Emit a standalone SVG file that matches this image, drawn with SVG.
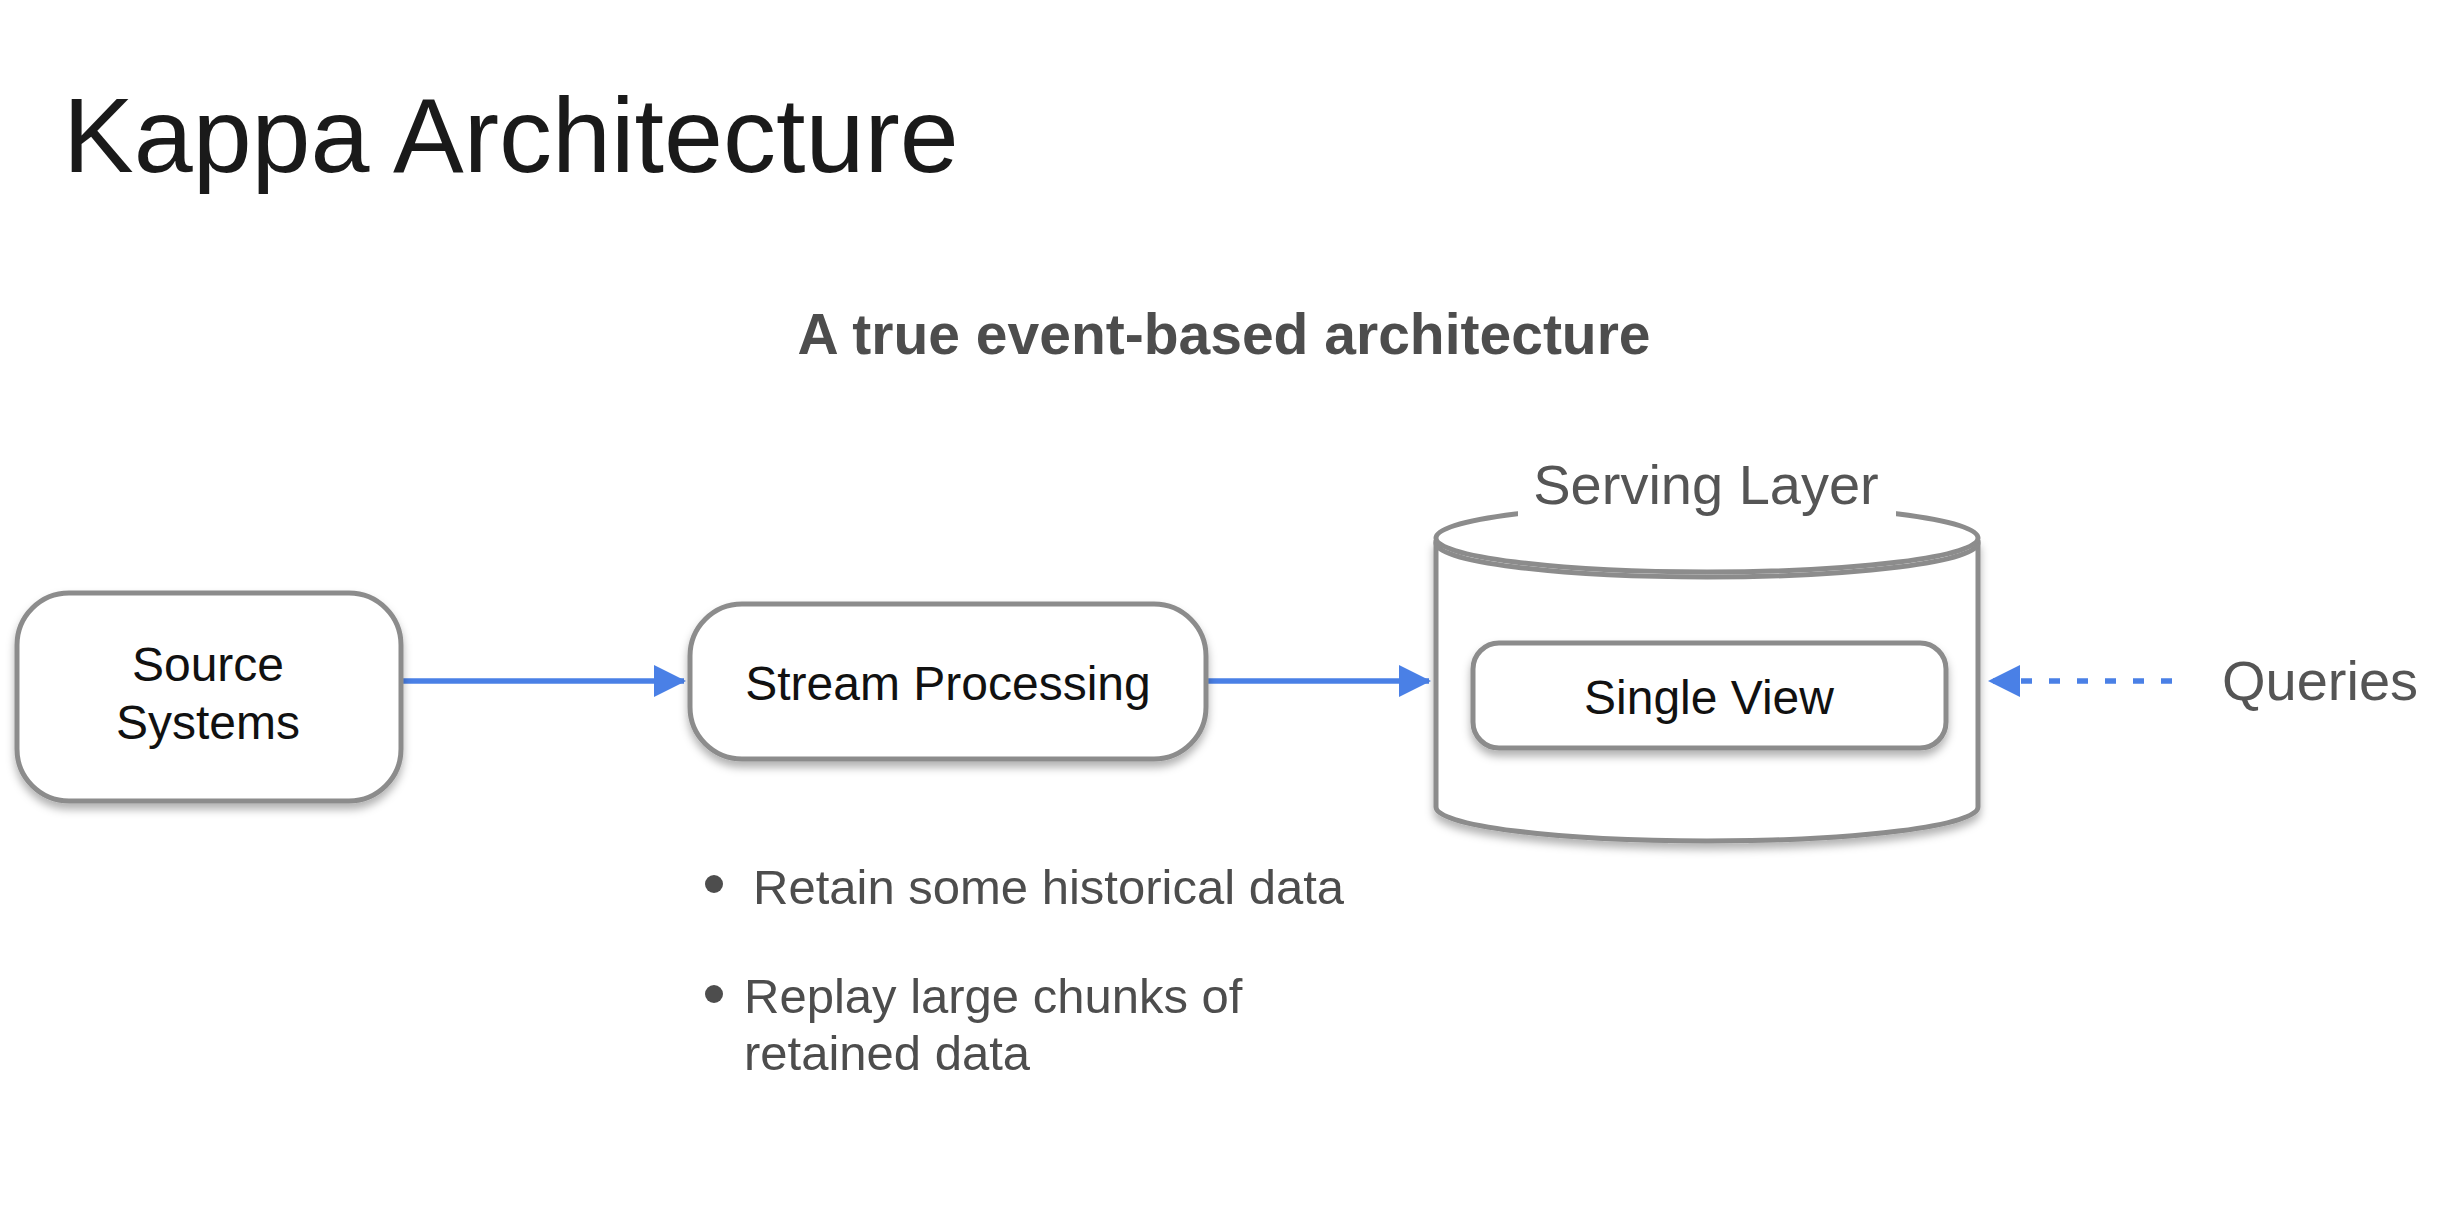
<svg xmlns="http://www.w3.org/2000/svg" width="2456" height="1210" viewBox="0 0 2456 1210">
<style>
text{font-family:"Liberation Sans",Arial,sans-serif}
.box{fill:#fff;stroke:#8c8c8c;stroke-width:5}
.lbl{font-size:48px;fill:#111;text-anchor:middle}
.gray{fill:#555}
.conn{stroke:#4a80e6;stroke-width:5.5;fill:none}
</style>
<defs>
<filter id="sh" x="-10%" y="-10%" width="120%" height="130%">
<feDropShadow dx="0" dy="6" stdDeviation="4" flood-color="#000" flood-opacity="0.3"/>
</filter>
<marker id="ah" markerWidth="32" markerHeight="32" viewBox="0 0 32 32" refX="30" refY="16" orient="auto" markerUnits="userSpaceOnUse">
<path d="M0,0 L32,16 L0,32 Z" fill="#4a80e6"/>
</marker>
</defs>
<rect width="2456" height="1210" fill="#fff"/>
<text x="63" y="172" font-size="106" fill="#1a1a1a">Kappa Architecture</text>
<text x="1224" y="354" font-size="57" font-weight="bold" fill="#4d4d4d" text-anchor="middle">A true event-based architecture</text>

<g id="connectors">
<line class="conn" x1="403" y1="681" x2="684" y2="681" marker-end="url(#ah)"/>
<line class="conn" x1="1208" y1="681" x2="1429" y2="681" marker-end="url(#ah)"/>
<line class="conn" x1="2172" y1="681" x2="1990" y2="681" stroke-dasharray="11 17" marker-end="url(#ah)"/>
</g>

<g id="source-systems">
<rect class="box" x="17" y="593" width="384" height="208" rx="52" filter="url(#sh)"/>
<text class="lbl" x="208" y="681">Source</text>
<text class="lbl" x="208" y="739">Systems</text>
</g>

<g id="stream-processing">
<rect class="box" x="690" y="604" width="516" height="155" rx="52" filter="url(#sh)"/>
<text class="lbl" x="948" y="700">Stream Processing</text>
</g>

<g id="serving-layer">
<path class="box" d="M1436,540 L1436,807 A271,34 0 0 0 1978,807 L1978,540" filter="url(#sh)"/>
<ellipse cx="1707" cy="543" rx="271" ry="34" fill="none" stroke="#8c8c8c" stroke-width="5"/>
<ellipse class="box" cx="1707" cy="538" rx="271" ry="34"/>
<rect x="1518" y="450" width="378" height="70" fill="#fff"/>
<text x="1706" y="504" font-size="56" class="gray" text-anchor="middle">Serving Layer</text>
</g>

<g id="single-view">
<rect class="box" x="1473" y="643" width="473" height="105" rx="26" filter="url(#sh)"/>
<text class="lbl" x="1709" y="714">Single View</text>
</g>

<g id="queries">
<text x="2222" y="700" font-size="56" class="gray">Queries</text>
</g>

<g id="notes" fill="#4d4d4d">
<circle cx="714" cy="884" r="9"/>
<text x="753" y="904" font-size="49">Retain some historical data</text>
<circle cx="714" cy="994" r="9"/>
<text x="744" y="1013" font-size="49">Replay large chunks of</text>
<text x="744" y="1070" font-size="49">retained data</text>
</g>
</svg>
